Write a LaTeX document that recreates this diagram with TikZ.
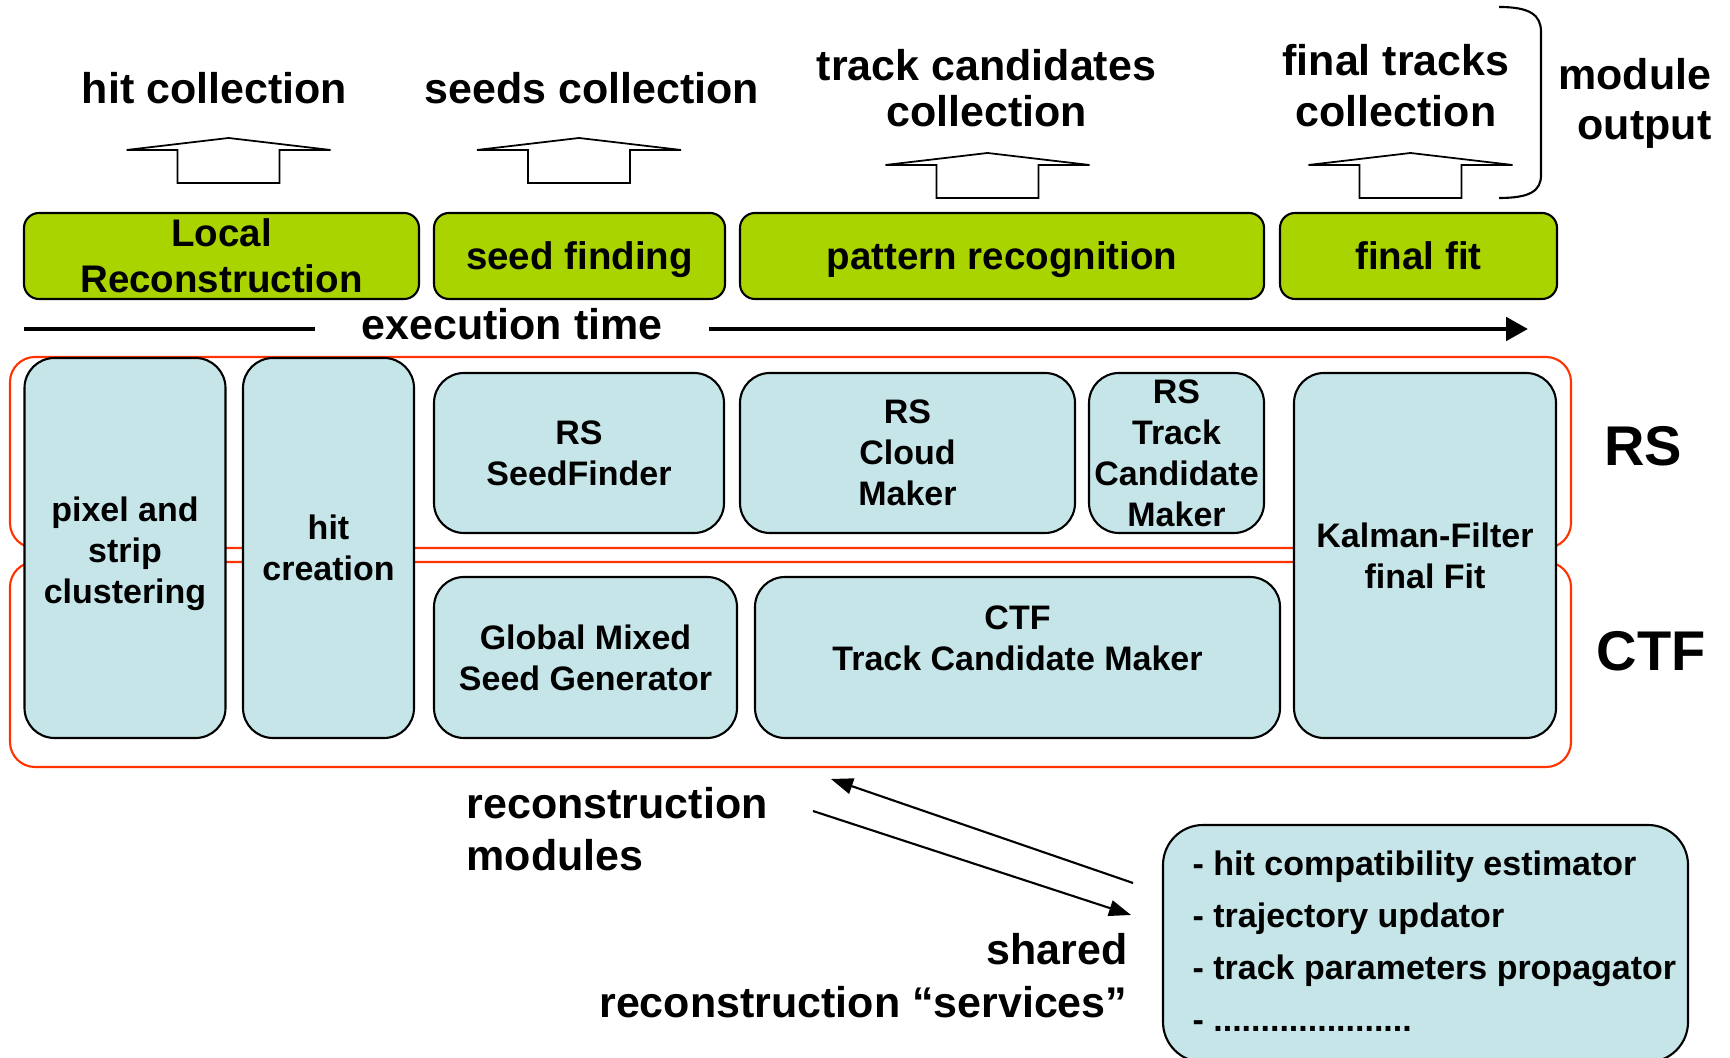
\documentclass[tikz,border=0pt]{standalone}
\usepackage{fontspec}
\setmainfont{Liberation Sans}
\usetikzlibrary{arrows.meta}

\definecolor{stagegreen}{RGB}{170,212,0}
\definecolor{modblue}{RGB}{197,229,232}
\definecolor{framered}{RGB}{255,51,0}

\newcommand{\outfont}[1][13.09pt]{\bfseries\fontsize{12.23pt}{#1}\selectfont}
\newcommand{\stagefont}{\bfseries\fontsize{10.95pt}{13.09pt}\selectfont}
\newcommand{\modfont}[1][11.66pt]{\bfseries\fontsize{9.67pt}{#1}\selectfont}
\newcommand{\algofont}{\bfseries\fontsize{15.93pt}{18pt}\selectfont}

\tikzset{
  stage/.style={draw=black, line width=0.6pt, fill=stagegreen, rounded corners=0.15cm,
    minimum height=0.86cm, inner sep=0pt, align=center, font=\stagefont},
  module/.style={draw=black, line width=0.6pt, fill=modblue, rounded corners=0.3cm,
    inner sep=0pt, align=center, font=\modfont},
  modtext/.style={inner sep=0pt, align=center, font=\modfont},
  algoframe/.style={draw=framered, line width=0.6pt, rounded corners=0.25cm},
  outarrow/.style={draw=black, line width=0.5pt, fill=white, line join=miter},
  timeline/.style={line width=1.4pt},
  servicearrow/.style={line width=0.6pt, ->}
}

\begin{document}
\begin{tikzpicture}[>={Triangle[length=2.2mm,width=1.6mm]}]
  \useasboundingbox (0,0) rectangle (17.30,10.57);

  % module output labels
  \node[font=\outfont, inner sep=0pt] (hitcoll) at (2.145,9.69) {hit collection};
  \node[font=\outfont, inner sep=0pt] (seedcoll) at (5.92,9.69) {seeds collection};
  \node[font=\outfont, inner sep=0pt, align=center] (tccoll) at (9.865,9.69) {track candidates\\collection};
  \node[font={\outfont[14.51pt]}, inner sep=0pt, align=center] (trkcoll) at (13.96,9.715) {final tracks\\collection};
  \node[font={\outfont[14.23pt]}, inner sep=0pt, align=right, anchor=east] (modout) at (17.12,9.54) {module\\output};

  % the brace
  \draw[line width=0.6pt] (14.99,10.50) .. controls (15.30,10.50) and (15.41,10.42) .. (15.41,10.25)
    -- (15.41,8.82) .. controls (15.41,8.66) and (15.30,8.59) .. (14.99,8.59);

  % hollow output arrows
  \foreach \x/\y in {2.286/8.74, 5.79/8.74, 9.875/8.59, 14.105/8.59}
    \draw[outarrow] (\x-0.51,\y) -- (\x-0.51,\y+0.33) -- (\x-1.02,\y+0.33) -- (\x,\y+0.45)
      -- (\x+1.02,\y+0.33) -- (\x+0.51,\y+0.33) -- (\x+0.51,\y) -- cycle;

  % processing stages
  \node[stage, minimum width=3.95cm] (localreco) at (2.215,8.01) {Local\\Reconstruction};
  \node[stage, minimum width=2.91cm, text depth=0pt] (seedfind) at (5.795,8.01) {seed finding};
  \node[stage, minimum width=5.24cm, text depth=0pt] (patrec) at (10.02,8.01) {pattern recognition};
  \node[stage, minimum width=2.77cm] (finalfit) at (14.185,8.01) {final fit};

  % execution time
  \coordinate (tlstart) at (0.245,7.28);
  \coordinate (tlend) at (15.28,7.28);
  \node[font=\outfont, inner xsep=0.46cm, inner ysep=0pt, anchor=base] (exectime) at (5.12,7.17) {execution time};
  \draw[timeline] (tlstart) -- (tlstart -| exectime.west);
  \draw[timeline, -{Triangle[length=2.2mm,width=2.3mm]}] (tlstart -| exectime.east) -- (tlend);

  % algorithm frames
  \draw[algoframe] (0.10,7.00) rectangle (15.71,5.09);
  \draw[algoframe] (0.10,4.95) rectangle (15.71,2.90);
  \node[font=\algofont, inner sep=0pt] (rslabel) at (16.43,6.11) {RS};
  \node[font=\algofont, inner sep=0pt] (ctflabel) at (16.51,4.06) {CTF};

  % reconstruction modules
  \node[module, minimum width=2.01cm, minimum height=3.80cm] (cluster) at (1.25,5.09) {};
  \node[modtext] (clustertext) at ([yshift=-0.055cm]cluster.center) {pixel and\\strip\\clustering};
  \node[module, minimum width=1.71cm, minimum height=3.80cm] (hitcreate) at (3.285,5.09) {hit\\creation};
  \node[module, minimum width=2.90cm, minimum height=1.60cm] (rsseed) at (5.79,6.04) {RS\\SeedFinder};
  \node[module, minimum width=3.35cm, minimum height=1.60cm] (rscloud) at (9.075,6.04) {RS\\Cloud\\Maker};
  \node[module, minimum width=1.75cm, minimum height=1.60cm] (rstcm) at (11.765,6.04) {RS\\Track\\Candidate\\Maker};
  \node[module, minimum width=3.03cm, minimum height=1.61cm] (gmsg) at (5.855,3.995) {Global Mixed\\Seed Generator};
  \node[module, minimum width=5.25cm, minimum height=1.61cm] (ctftcm) at (10.175,3.995) {};
  \node[modtext] (ctftext) at ([yshift=0.19cm]ctftcm.center) {CTF\\Track Candidate Maker};
  \node[module, minimum width=2.62cm, minimum height=3.65cm] (kalman) at (14.25,5.015) {Kalman-Filter\\final Fit};

  % shared services
  \node[module, rounded corners=0.4cm, minimum width=5.25cm, minimum height=2.37cm] (services) at (14.255,1.135) {};
  \node[font={\modfont[14.8pt]}, inner sep=0pt, align=left, anchor=west] (servlist)
    at ([shift={(0.30,0.02)}]services.west) {- hit compatibility estimator\\- trajectory updator\\- track parameters propagator\\- .....................};

  % text at the bottom
  \node[font={\outfont[14.8pt]}, inner sep=0pt, align=left, anchor=west] (recomod) at (4.66,2.275) {reconstruction\\modules};
  \node[font={\outfont[15.08pt]}, inner sep=0pt, align=right, anchor=east] (sharedsvc) at (11.28,0.81) {shared\\reconstruction “services”};

  % modules use the services
  \coordinate (callstart) at (8.13,2.46);
  \coordinate (callend) at (11.31,1.42);
  \coordinate (replystart) at (11.33,1.74);
  \coordinate (replyend) at (8.31,2.78);
  \draw[servicearrow] (callstart) -- (callend);
  \draw[servicearrow] (replystart) -- (replyend);
\end{tikzpicture}
\end{document}
